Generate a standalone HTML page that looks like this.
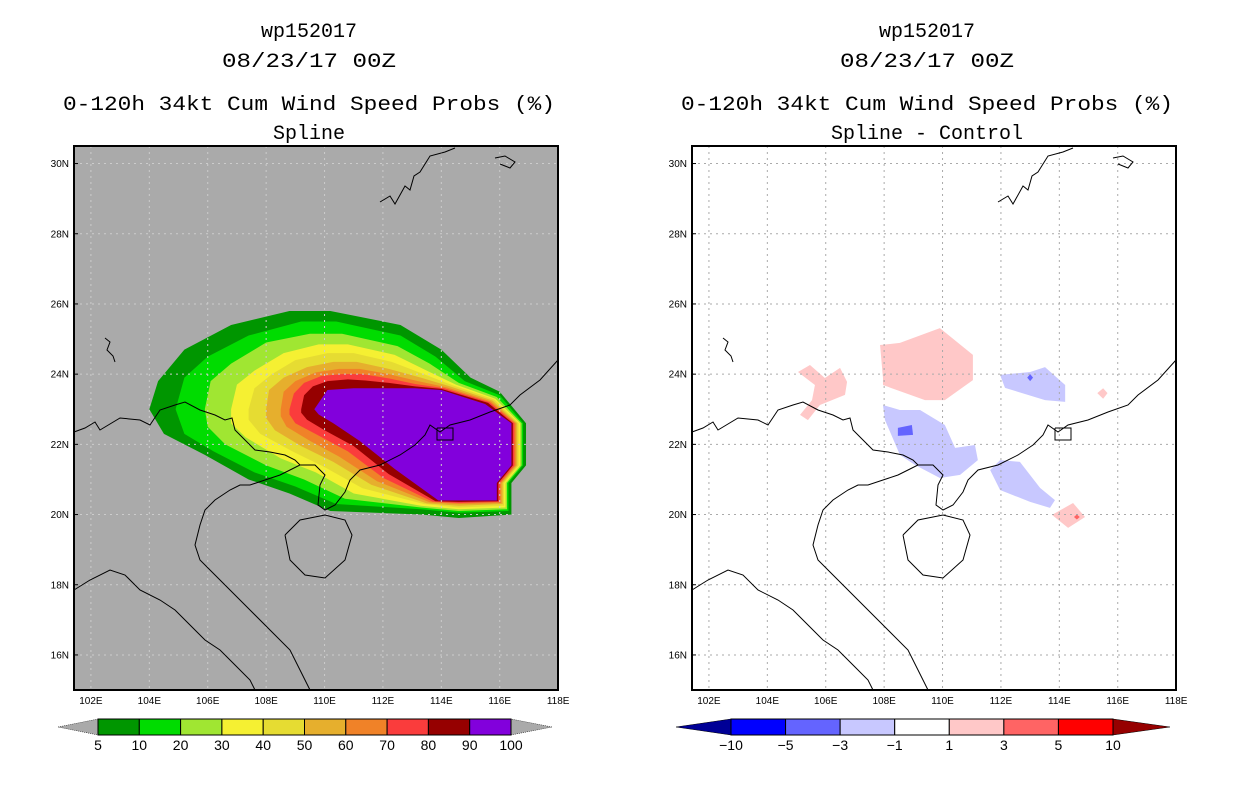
<!DOCTYPE html>
<html><head><meta charset="utf-8">
<style>
body{margin:0;background:#fff;width:1236px;height:800px;overflow:hidden;font-family:"Liberation Sans",sans-serif}
svg{position:absolute;left:0;top:0}
</style></head>
<body>
<svg id="chart" width="1236" height="800">
<g font-family="Liberation Mono, monospace" font-size="20" text-anchor="middle" fill="#000">
<text x="309" y="37">wp152017</text>
<text x="309" y="67" textLength="174" lengthAdjust="spacingAndGlyphs">08/23/17 00Z</text>
<text x="309" y="110" textLength="492" lengthAdjust="spacingAndGlyphs">0-120h 34kt Cum Wind Speed Probs (%)</text>
<text x="309" y="139">Spline</text>
<text x="927" y="37">wp152017</text>
<text x="927" y="67" textLength="174" lengthAdjust="spacingAndGlyphs">08/23/17 00Z</text>
<text x="927" y="110" textLength="492" lengthAdjust="spacingAndGlyphs">0-120h 34kt Cum Wind Speed Probs (%)</text>
<text x="927" y="139">Spline - Control</text>
</g>
<g id="left"></g>
<g id="right"></g>
<g id="cbars"></g>
</svg>
<script>
const NS='http://www.w3.org/2000/svg';
const LON0=101.42, LAT0=30.5, KX=29.2, KY=35.1, W=484, H=544, Y0=146;
const latTicks=[16,18,20,22,24,26,28,30];
const lonTicks=[102,104,106,108,110,112,114,116,118];
const probLevels=[5,10,20,30,40,50,60,70,80,90];
const probColors=['#009600','#00dc00','#a0e632','#f5f032','#e6dc32','#e6af2d','#f08228','#fa3c3c','#960000','#8200dc'];
const p5=[[104.0,23.0],[104.3,23.8],[105.2,24.7],[106.8,25.4],[108.8,25.8],[110.2,25.8],[112.6,25.4],[114.0,24.7],[115.0,23.9],[116.0,23.5],[116.9,22.6],[116.9,21.4],[116.4,20.9],[116.4,20.0],[114.6,19.9],[113.3,20.0],[110.2,20.1],[108.8,20.6],[107.4,21.0],[105.9,21.7],[104.5,22.3]];
const p10=[[104.9,23.0],[105.2,23.9],[106.0,24.5],[107.4,25.1],[109.2,25.5],[110.4,25.5],[112.6,25.1],[113.8,24.5],[114.8,23.8],[116.0,23.4],[116.8,22.6],[116.8,21.4],[116.3,20.9],[116.3,20.1],[114.6,20.05],[113.3,20.15],[110.4,20.3],[109.0,20.8],[107.6,21.2],[106.2,21.8],[105.2,22.3]];
const p20=[[105.9,23.0],[106.1,23.8],[106.8,24.3],[108.0,24.9],[109.5,25.15],[110.6,25.15],[112.5,24.8],[113.6,24.3],[114.6,23.75],[115.9,23.35],[116.75,22.6],[116.75,21.4],[116.25,20.9],[116.25,20.15],[114.6,20.1],[113.3,20.2],[110.7,20.45],[109.3,21.0],[108.0,21.4],[106.6,22.0],[106.0,22.5]];
const p30=[[106.8,23.0],[107.0,23.7],[107.6,24.1],[108.6,24.6],[109.8,24.85],[110.8,24.85],[112.4,24.55],[113.5,24.1],[114.5,23.7],[115.85,23.3],[116.7,22.6],[116.7,21.4],[116.2,20.9],[116.2,20.2],[114.6,20.15],[113.3,20.25],[111.0,20.6],[109.7,21.2],[108.5,21.6],[107.3,22.2],[106.8,22.6]];
const p40=[[107.4,23.0],[107.6,23.6],[108.2,24.0],[109.0,24.4],[110.1,24.6],[111.0,24.6],[112.3,24.35],[113.4,24.0],[114.4,23.68],[115.8,23.28],[116.65,22.6],[116.65,21.4],[116.15,20.9],[116.15,20.25],[114.6,20.2],[113.4,20.3],[111.3,20.75],[110.0,21.35],[108.9,21.8],[107.8,22.3],[107.4,22.7]];
const p50=[[108.0,23.0],[108.1,23.55],[108.6,23.9],[109.4,24.2],[110.3,24.35],[111.1,24.35],[112.2,24.15],[113.3,23.9],[114.3,23.65],[115.75,23.25],[116.6,22.6],[116.6,21.4],[116.1,20.9],[116.1,20.3],[114.6,20.25],[113.5,20.32],[111.6,20.85],[110.3,21.5],[109.2,21.95],[108.3,22.4],[108.0,22.75]];
const p60=[[108.5,23.0],[108.6,23.5],[109.0,23.8],[109.7,24.05],[110.5,24.15],[111.2,24.15],[112.2,24.0],[113.2,23.8],[114.2,23.62],[115.7,23.22],[116.55,22.6],[116.55,21.4],[116.05,20.9],[116.05,20.33],[114.6,20.3],[113.6,20.35],[111.8,20.95],[110.5,21.65],[109.5,22.1],[108.7,22.5],[108.5,22.8]];
const p70=[[108.8,23.0],[108.95,23.45],[109.3,23.75],[109.9,23.95],[110.6,24.0],[111.3,24.0],[112.2,23.88],[113.1,23.72],[114.1,23.6],[115.65,23.2],[116.5,22.6],[116.5,21.4],[116.0,20.9],[116.0,20.36],[114.6,20.33],[113.7,20.37],[112.0,21.05],[110.8,21.8],[109.8,22.25],[109.0,22.6],[108.8,22.85]];
const p80=[[109.2,23.0],[109.3,23.4],[109.6,23.65],[110.1,23.8],[110.8,23.85],[111.4,23.82],[112.2,23.75],[113.1,23.65],[114.0,23.58],[115.6,23.18],[116.45,22.6],[116.45,21.4],[115.95,20.9],[115.95,20.38],[114.6,20.36],[113.8,20.38],[112.2,21.15],[111.0,21.95],[110.0,22.4],[109.4,22.7],[109.2,22.9]];
const p90=[[109.65,23.0],[110.1,23.55],[111.0,23.6],[112.2,23.6],[113.1,23.6],[114.0,23.55],[115.5,23.15],[116.4,22.6],[116.4,21.4],[115.9,20.9],[115.9,20.4],[114.6,20.4],[113.9,20.4],[112.4,21.3],[111.2,22.1],[110.3,22.6],[109.8,22.85]];
const probPolys=[p5,p10,p20,p30,p40,p50,p60,p70,p80,p90];
const diffLabels=['-10','-5','-3','-1','1','3','5','10'];
const diffColors=['#0000ff','#6464ff','#c8c8ff','#ffffff','#ffc8c8','#ff6464','#ff0000'];
const diffBlobs=[
 {c:'#ffc8c8',p:[[107.96,23.89],[107.86,24.83],[108.54,24.89],[109.91,25.31],[111.04,24.55],[111.04,23.83],[110.08,23.26],[109.4,23.26],[107.96,23.69]]},
 {c:'#ffc8c8',p:[[105.05,24.06],[105.46,24.26],[105.97,23.89],[106.49,24.18],[106.73,23.78],[106.66,23.41],[105.8,23.12],[105.39,22.69],[105.12,22.84],[105.53,23.26],[105.63,23.69]]},
 {c:'#c8c8ff',p:[[108.03,22.69],[107.96,23.12],[108.54,22.98],[109.23,22.98],[110.08,22.55],[110.43,21.9],[111.11,21.98],[111.21,21.55],[110.6,21.13],[109.91,21.04],[109.06,21.41],[108.54,21.7]]},
 {c:'#6464ff',p:[[108.47,22.47],[108.95,22.55],[108.99,22.27],[108.47,22.24]]},
 {c:'#c8c8ff',p:[[111.97,23.98],[113.0,24.06],[113.51,24.2],[114.2,23.69],[114.2,23.21],[113.51,23.26],[112.14,23.61]]},
 {c:'#c8c8ff',p:[[111.63,21.27],[111.97,21.55],[112.65,21.5],[113.34,20.76],[113.85,20.41],[113.68,20.19],[113.0,20.36],[111.97,20.7]]},
 {c:'#ffc8c8',p:[[113.75,19.99],[114.47,20.33],[114.88,19.93],[114.3,19.62]]},
 {c:'#ffc8c8',p:[[115.3,23.46],[115.5,23.3],[115.65,23.46],[115.5,23.6]]},
 {c:'#6464ff',p:[[113.0,24.0],[113.1,23.9],[113.0,23.8],[112.9,23.9]]},
 {c:'#ff6464',p:[[114.6,20.0],[114.7,19.93],[114.6,19.86],[114.5,19.93]]}
];
// coastline in local panel pixels (map decoration)
const coast=[
 [[0,286],[11,282],[21,276],[26,284],[46,272],[66,274],[76,279],[86,264],[101,259],[111,256],[126,264],[141,269],[151,274],[158,272],[161,284],[171,294],[181,304],[196,306],[211,309],[221,314],[226,319],[216,324],[206,329],[191,334],[176,339],[166,339],[156,344],[141,354],[131,364],[126,379],[121,399],[126,414],[141,429],[156,444],[176,464],[196,484],[216,504],[226,524],[236,544]],
 [[226,319],[241,319],[251,329],[246,339],[244,359],[251,364],[261,359],[271,346],[276,334],[286,324],[306,319],[326,309],[341,299],[351,289],[356,279],[366,286],[376,279],[396,274],[416,266],[436,259],[446,249],[466,234],[484,214]],
 [[0,444],[16,434],[36,424],[51,429],[66,444],[86,454],[101,464],[116,479],[131,494],[146,504],[161,519],[176,534],[181,544]],
 [[211,389],[226,374],[251,369],[271,374],[278,389],[271,414],[251,432],[231,429],[216,414],[211,389]],
 [[363,282],[379,282],[379,294],[363,294],[363,282]],
 [[306,56],[316,50],[321,58],[331,40],[336,44],[340,30],[346,26],[356,10],[371,6],[381,2]],
 [[421,12],[431,10],[441,16],[436,22],[426,18]],
 [[31,192],[36,196],[33,204],[39,210],[41,216]]
];
function mk(tag,attrs,parent){const e=document.createElementNS(NS,tag);for(const k in attrs)e.setAttribute(k,attrs[k]);parent.appendChild(e);return e;}
function panel(g,x0,bg,fill){
 const px=lon=>x0+(lon-LON0)*KX, py=lat=>Y0+(LAT0-lat)*KY;
 const r=mk('rect',{x:x0,y:Y0,width:W,height:H,fill:bg},g);
 
 
 fill(px,py);
 const grid=mk('g',{stroke:bg==='#ffffff'?'#aaa':'#ccc','stroke-width':1,'stroke-dasharray':'2,4'},g);
 
 
 lonTicks.forEach(l=>{if(l<118)mk('line',{x1:px(l),x2:px(l),y1:Y0,y2:Y0+H},grid);});
 latTicks.forEach(l=>mk('line',{x1:x0,x2:x0+W,y1:py(l),y2:py(l)},grid));
 const cg=mk('g',{fill:'none',stroke:'#000','stroke-width':1,transform:`translate(${x0},${Y0})`},g);
 
 
 coast.forEach(c=>mk('polyline',{points:c.map(p=>p.join(',')).join(' ')},cg));
 const fr=mk('rect',{x:x0,y:Y0,width:W,height:H,fill:'none',stroke:'#000','stroke-width':2},g);
 
 
 latTicks.forEach(l=>{const t=mk('text',{x:x0-5,y:py(l)+3.5,'font-size':10,'text-anchor':'end','font-family':'Liberation Sans, sans-serif'},g);t.textContent=l+'N';
  
  
  mk('line',{x1:x0,x2:x0+4,y1:py(l),y2:py(l),stroke:'#000'},g);});
 lonTicks.forEach(l=>{const t=mk('text',{x:px(l),y:Y0+H+14,'font-size':10,'text-anchor':'middle','font-family':'Liberation Sans, sans-serif'},g);t.textContent=l+'E';
  
  });
}
panel(document.getElementById('left'),74,'#aaaaaa',(px,py)=>{
 const g=document.getElementById('left');
 probPolys.forEach((poly,i)=>{const e=mk('polygon',{points:poly.map(p=>px(p[0])+','+py(p[1])).join(' '),fill:probColors[i]},g);
  
  });
});
panel(document.getElementById('right'),692,'#ffffff',(px,py)=>{
 const g=document.getElementById('right');
 diffBlobs.forEach(b=>{const e=mk('polygon',{points:b.p.map(p=>px(p[0])+','+py(p[1])).join(' '),fill:b.c},g);
  
  });
});
// colorbars
const cb=document.getElementById('cbars');
(function(){
 const x0=98,x1=511,y=719,h=16,n=probColors.length,w=(x1-x0)/n;
 const t1=mk('polygon',{points:`58,727 ${x0},${y} ${x0},${y+h}`,fill:'#aaa',stroke:'#000','stroke-width':0.5,'stroke-dasharray':'1,1'},cb);
 
 
 const t2=mk('polygon',{points:`552,727 ${x1},${y} ${x1},${y+h}`,fill:'#aaa',stroke:'#000','stroke-width':0.5,'stroke-dasharray':'1,1'},cb);
 
 
 probColors.forEach((c,i)=>{const r=mk('rect',{x:x0+i*w,y:y,width:w,height:h,fill:c,stroke:'#000','stroke-width':1},cb);
  
  });
 probLevels.concat([100]).forEach((l,i)=>{const t=mk('text',{x:x0+i*w,y:750,'font-size':14,'text-anchor':'middle'},cb);t.textContent=l;
  
  });
})();
(function(){
 const x0=731,x1=1113,y=719,h=16,n=diffColors.length,w=(x1-x0)/n;
 const t1=mk('polygon',{points:`676,727 ${x0},${y} ${x0},${y+h}`,fill:'#000096',stroke:'#000','stroke-width':0.5},cb);
 
 
 const t2=mk('polygon',{points:`1170,727 ${x1},${y} ${x1},${y+h}`,fill:'#960000',stroke:'#000','stroke-width':0.5},cb);
 
 
 diffColors.forEach((c,i)=>{const r=mk('rect',{x:x0+i*w,y:y,width:w,height:h,fill:c,stroke:'#000','stroke-width':1},cb);
  
  });
 diffLabels.forEach((l,i)=>{const t=mk('text',{x:x0+i*w,y:750,'font-size':14,'text-anchor':'middle'},cb);t.textContent=l.replace('-','\u2212');
  
  });
})();
</script>
</body></html>
